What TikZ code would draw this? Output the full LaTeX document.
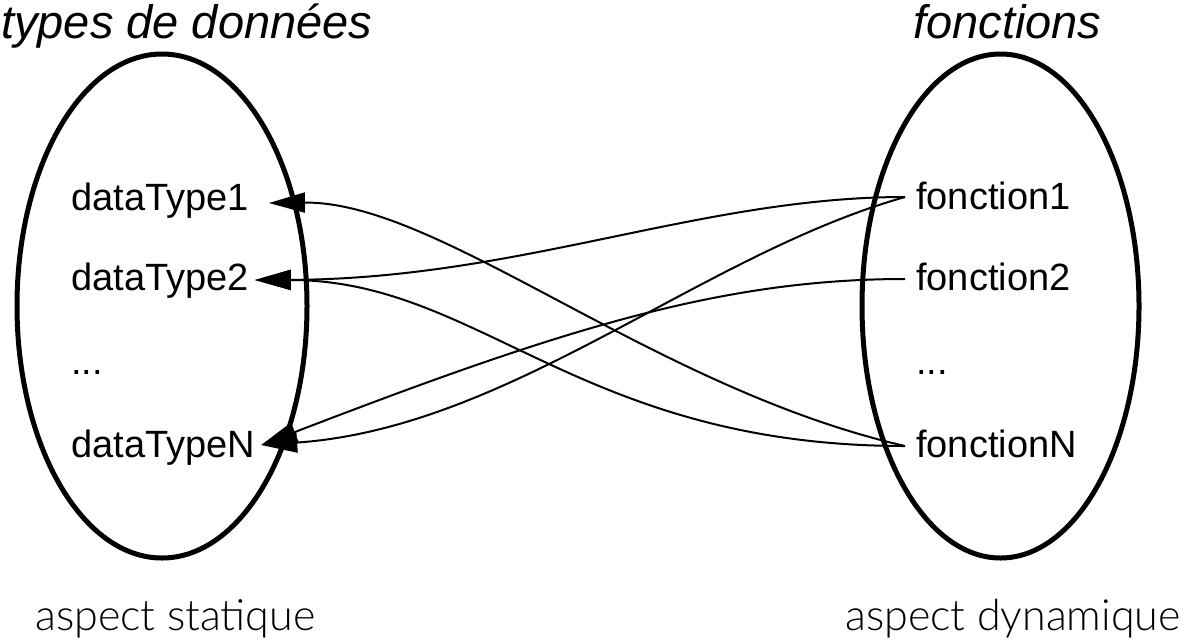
\documentclass[tikz,border=0pt]{standalone}
\usepackage{fontspec}
\setmainfont{Liberation Sans}
\newfontfamily\aspectfont{Lato Light}
\usetikzlibrary{arrows.meta,calc}
\begin{document}
\begin{tikzpicture}[x=1pt,y=-1pt,
  setline/.style={line width=5pt},
  item/.style={inner sep=0pt, anchor=base west, font=\fontsize{38}{40}\selectfont},
  titletext/.style={inner sep=0pt, anchor=base west, font=\fontsize{47}{52}\selectfont\itshape},
  aspecttext/.style={inner sep=0pt, anchor=base west, font=\fontsize{43}{46}\selectfont\aspectfont},
  conn/.style={line width=2pt, -{Triangle[length=36pt,width=20pt]}}
]
\useasboundingbox (0,0) rectangle (1198,641);
% sets
\draw[setline] (162,306) ellipse [x radius=145, y radius=252];
\draw[setline] (1000.5,306) ellipse [x radius=138.5, y radius=252];
% titles
\node[titletext] (tL) at (1,38) {types de données};
\node[titletext] (tR) at (913,38) {fonctions};
% items
\node[item] (d1) at (71,210) {dataType1};
\node[item] (d2) at (71,290) {dataType2};
\node[item] (dd) at (71,374) {...};
\node[item] (dN) at (71,457) {dataTypeN};
\node[item] (f1) at (916,209) {fonction1};
\node[item] (f2) at (916,290) {fonction2};
\node[item] (fd) at (916,374) {...};
\node[item] (fN) at (916,457) {fonctionN};
% bottom labels
\node[aspecttext] (aL) at (35,630) {aspect statique};
\node[aspecttext] (aR) at (845,630) {aspect dynamique};
% connectors
\draw[conn] ($(f1.base west)+(-11,-12)$) .. controls (700,197) and (520,279) .. ($(d2.base east)+(6,-10)$);
\draw[conn] ($(f1.base west)+(-11,-12)$) .. controls (700,255) and (510,428) .. ($(dN.base east)+(6,-12)$);
\draw[conn] ($(f2.base west)+(-11,-11)$) .. controls (720,279) and (560,330) .. ($(dN.base east)+(6,-12)$);
\draw[conn] ($(fN.base west)+(-11,-11)$) .. controls (652,388) and (440,201) .. ($(d1.base east)+(20,-7)$);
\draw[conn] ($(fN.base west)+(-11,-11)$) .. controls (580,446) and (480,280) .. ($(d2.base east)+(6,-10)$);
\end{tikzpicture}
\end{document}
